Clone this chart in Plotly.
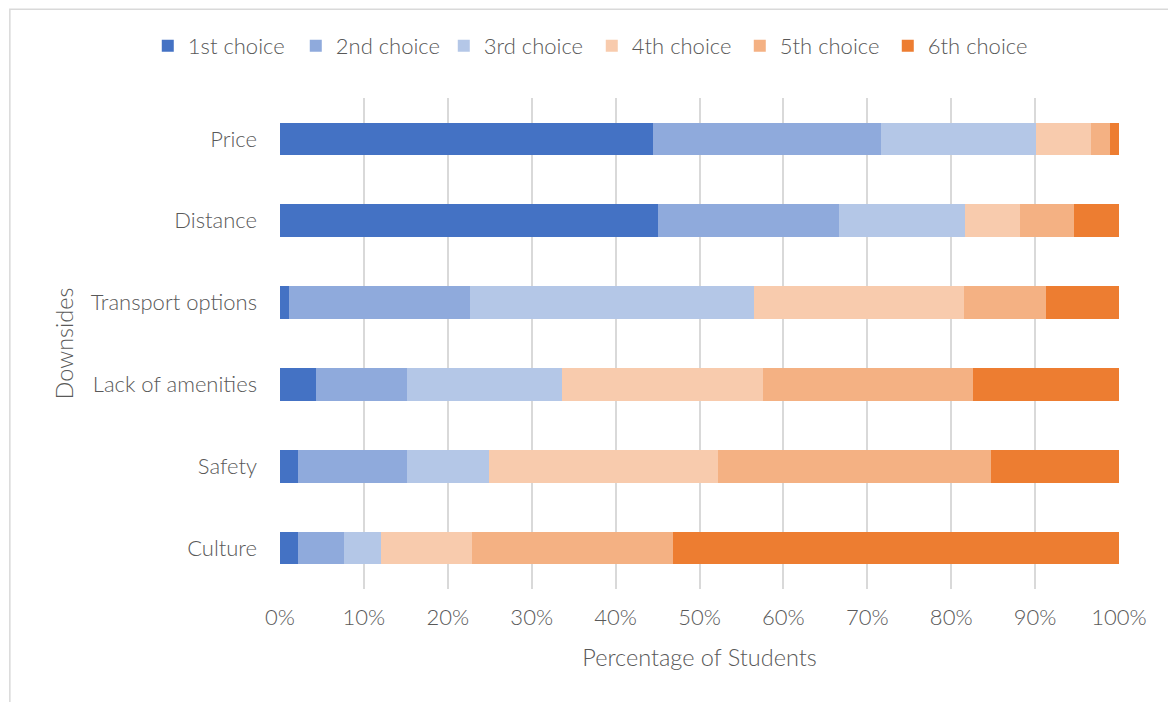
import plotly.graph_objects as go

# Downsides, listed top to bottom
categories = ["Price", "Distance", "Transport options", "Lack of amenities", "Safety", "Culture"]

# Percentage of students ranking each downside at each position
first_choice = [44.5, 45.1, 1.1, 4.3, 2.2, 2.2]
second_choice = [27.1, 21.5, 21.6, 10.8, 12.9, 5.4]
third_choice = [18.5, 15.0, 33.8, 18.5, 9.8, 4.4]
fourth_choice = [6.6, 6.6, 25.0, 24.0, 27.3, 10.9]
fifth_choice = [2.2, 6.4, 9.8, 25.0, 32.6, 23.9]
sixth_choice = [1.1, 5.4, 8.7, 17.4, 15.2, 53.2]

series_names = ["1st choice", "2nd choice", "3rd choice", "4th choice", "5th choice", "6th choice"]
series_values = [first_choice, second_choice, third_choice, fourth_choice, fifth_choice, sixth_choice]
series_colors = ["#4472C4", "#8FAADC", "#B4C7E7", "#F8CBAD", "#F4B183", "#ED7D31"]

x_ticks = list(range(0, 101, 10))
x_tick_labels = [f"{v}%" for v in x_ticks]

FONT = "Lato"
WEIGHT = 300
GREY = "#595959"

fig = go.Figure()
for name, vals, color in zip(series_names, series_values, series_colors):
    fig.add_trace(go.Bar(
        y=categories,
        x=vals,
        name=name,
        orientation="h",
        marker=dict(color=color, line=dict(width=0)),
        width=0.4,
        hovertemplate="%{y}: %{x:.1f}%<extra>" + name + "</extra>",
    ))

fig.update_layout(
    barmode="stack",
    width=1168,
    height=702,
    paper_bgcolor="white",
    plot_bgcolor="white",
    margin=dict(l=279.5, r=48.5, t=98, b=113),
    font=dict(family=FONT, color=GREY, size=22, weight=WEIGHT),
    legend=dict(
        orientation="h",
        xref="paper", yref="paper",
        x=-0.1576, y=1.106,
        xanchor="left", yanchor="middle",
        font=dict(family=FONT, size=22, color=GREY, weight=WEIGHT),
        itemwidth=30,
        entrywidth=103,
        traceorder="normal",
    ),
    xaxis=dict(
        range=[0, 100],
        tickvals=x_ticks,
        ticktext=x_tick_labels,
        showgrid=True,
        gridcolor="#D9D9D9",
        gridwidth=1.5,
        zeroline=False,
        showline=False,
        ticks="",
        tickfont=dict(family=FONT, size=22, color=GREY, weight=WEIGHT),
        ticklabelstandoff=13,
        title=dict(text="Percentage of Students",
                   font=dict(family=FONT, size=23.5, color=GREY, weight=WEIGHT), standoff=20),
        fixedrange=True,
    ),
    yaxis=dict(
        autorange="reversed",
        showgrid=False,
        showline=False,
        ticks="",
        tickfont=dict(family=FONT, size=22, color=GREY, weight=WEIGHT),
        ticklabelstandoff=22,
        title=dict(text="Downsides",
                   font=dict(family=FONT, size=23.5, color=GREY, weight=WEIGHT), standoff=10),
        fixedrange=True,
    ),
    shapes=[
        # chart frame
        dict(type="rect", xref="paper", yref="paper",
             x0=-0.322, x1=1.07, y0=-0.26, y1=1.181,
             line=dict(color="#D9D9D9", width=1.5), fillcolor="rgba(0,0,0,0)",
             layer="below"),
    ],
    showlegend=True,
)

fig.write_html("out.html")
